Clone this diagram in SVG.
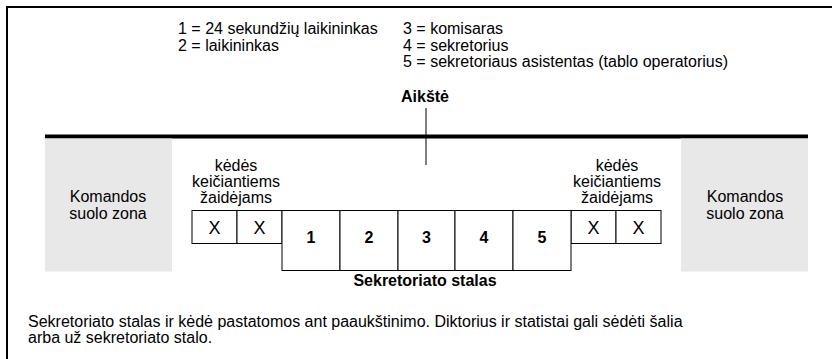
<svg xmlns="http://www.w3.org/2000/svg" width="832" height="359" viewBox="0 0 832 359">
  <style>
    text { font-family: "Liberation Sans", Arial, sans-serif; fill: #000; }
    .t { font-size: 16px; }
    .b { font-size: 16px; font-weight: bold; }
    .n { font-size: 16px; font-weight: bold; }
    .x { font-size: 18px; }
    .box { fill: #fff; stroke: #000; stroke-width: 1; }
    .zone { fill: #e8e8e8; }
    .c { text-anchor: middle; }
  </style>

  <!-- outer frame (left and top edges) -->
  <path d="M7,359 V7 H832" fill="none" stroke="#000" stroke-width="2"/>

  <!-- legend -->
  <g id="legend" class="t">
    <text x="178" y="34">1 = 24 sekundžių laikininkas</text>
    <text x="178" y="50.5">2 = laikininkas</text>
    <text x="403" y="34">3 = komisaras</text>
    <text x="403" y="50.5">4 = sekretorius</text>
    <text x="403" y="67">5 = sekretoriaus asistentas (tablo operatorius)</text>
  </g>

  <!-- court -->
  <g id="court">
    <text class="b c" x="425" y="102">Aikštė</text>
    <rect x="45" y="134.5" width="763" height="4" fill="#000"/>
    <line x1="426" y1="108" x2="426" y2="165" stroke="#000" stroke-width="1"/>
  </g>

  <!-- team bench zones -->
  <g id="bench-left">
    <rect class="zone" x="45" y="138.5" width="127" height="133"/>
    <text class="t c" x="108" y="202">Komandos</text>
    <text class="t c" x="108" y="218.5">suolo zona</text>
  </g>
  <g id="bench-right">
    <rect class="zone" x="681" y="138.5" width="127" height="133"/>
    <text class="t c" x="745" y="202">Komandos</text>
    <text class="t c" x="745" y="218.5">suolo zona</text>
  </g>

  <!-- substitution chairs -->
  <g id="chairs-left">
    <text class="t c" x="236" y="171">kėdės</text>
    <text class="t c" x="236" y="187">keičiantiems</text>
    <text class="t c" x="236" y="203">žaidėjams</text>
    <rect class="box" x="192" y="210.5" width="45" height="33"/>
    <rect class="box" x="237" y="210.5" width="45" height="33"/>
    <text class="x c" x="214.5" y="233.5">X</text>
    <text class="x c" x="259.5" y="233.5">X</text>
  </g>
  <g id="chairs-right">
    <text class="t c" x="617" y="171">kėdės</text>
    <text class="t c" x="617" y="187">keičiantiems</text>
    <text class="t c" x="617" y="203">žaidėjams</text>
    <rect class="box" x="571" y="210.5" width="45" height="33"/>
    <rect class="box" x="616" y="210.5" width="45" height="33"/>
    <text class="x c" x="593.5" y="233.5">X</text>
    <text class="x c" x="638.5" y="233.5">X</text>
  </g>

  <!-- scorer's table -->
  <g id="table">
    <rect class="box" x="282" y="210.5" width="58" height="60"/>
    <rect class="box" x="340" y="210.5" width="58" height="60"/>
    <rect class="box" x="398" y="210.5" width="57" height="60"/>
    <rect class="box" x="455" y="210.5" width="58" height="60"/>
    <rect class="box" x="513" y="210.5" width="58" height="60"/>
    <text class="n c" x="311" y="242.5">1</text>
    <text class="n c" x="369" y="242.5">2</text>
    <text class="n c" x="426.5" y="242.5">3</text>
    <text class="n c" x="484" y="242.5">4</text>
    <text class="n c" x="542" y="242.5">5</text>
    <text class="b c" x="425" y="286">Sekretoriato stalas</text>
  </g>

  <!-- note -->
  <g id="note" class="t">
    <text x="28" y="327">Sekretoriato stalas ir kėdė pastatomos ant paaukštinimo. Diktorius ir statistai gali sėdėti šalia</text>
    <text x="28" y="343">arba už sekretoriato stalo.</text>
  </g>
</svg>
